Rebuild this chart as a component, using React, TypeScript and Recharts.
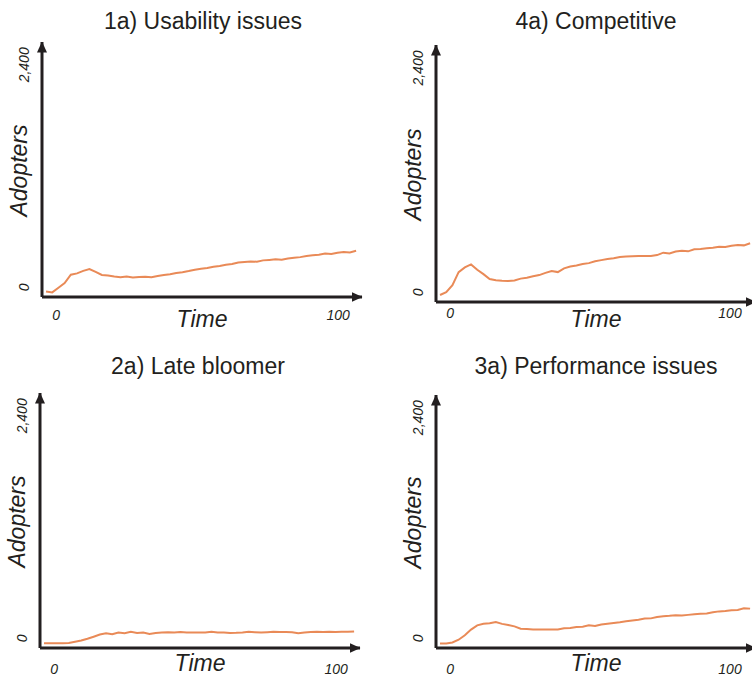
import React from 'react'
import { LineChart, Line, XAxis, YAxis } from 'recharts'

// time steps shared by all four runs
const TIME = [
  0, 2, 4, 6, 8, 10, 12, 14, 16, 18, 20, 22, 24, 26, 28, 30, 32, 34, 36, 38, 40,
  42, 44, 46, 48, 50, 52, 54, 56, 58, 60, 62, 64, 66, 68, 70, 72, 74, 76, 78, 80,
  82, 84, 86, 88, 90, 92, 94, 96, 98, 100,
]

// adopters per run
const USABILITY = [
  10, 0, 50, 100, 190, 205, 232, 252, 222, 188, 182, 170, 162, 170, 160, 166, 168, 162, 176, 188, 196,
  208, 218, 230, 244, 255, 262, 276, 285, 298, 306, 322, 328, 334, 330, 345, 350, 356, 352, 365, 374,
  380, 392, 400, 405, 418, 414, 428, 436, 430, 448,
]
const COMPETITIVE = [
  25, 55, 130, 270, 320, 352, 295, 248, 196, 182, 178, 176, 180, 200, 210, 225, 238, 262, 282, 270, 310,
  330, 340, 356, 366, 385, 398, 410, 418, 432, 436, 440, 442, 442, 442, 452, 478, 470, 490, 498, 492,
  514, 518, 524, 530, 540, 538, 552, 560, 556, 578,
]
const LATE_BLOOMER = [
  0, 0, 0, 2, 5, 18, 30, 50, 72, 95, 108, 98, 118, 110, 124, 112, 118, 102, 112, 116, 120,
  118, 122, 116, 118, 118, 116, 124, 116, 116, 112, 114, 118, 124, 120, 116, 120, 124, 122, 122, 120,
  108, 116, 122, 124, 122, 124, 122, 124, 124, 128,
]
const PERFORMANCE = [
  0, 0, 10, 40, 88, 150, 196, 214, 218, 232, 212, 200, 185, 160, 156, 152, 150, 150, 152, 150, 164,
  168, 178, 182, 196, 190, 206, 214, 222, 230, 240, 250, 258, 270, 272, 286, 296, 300, 306, 302, 310,
  318, 322, 326, 338, 348, 352, 360, 364, 382, 378,
]

const TITLES = ['1a) Usability issues', '4a) Competitive', '2a) Late bloomer', '3a) Performance issues']
const SERIES = [USABILITY, COMPETITIVE, LATE_BLOOMER, PERFORMANCE]
const X_TICKS = [0, 100]
const Y_TICKS = [0, 2400]

const FONT = '"Liberation Sans", Arial, Helvetica, sans-serif'
const INK = '#231f20'
const LINE_COLOR = '#e98a57'
const CHART_W = 384
const CHART_H = 340

type Layout = {
  ox: number
  oy: number
  left: number
  top: number
  right: number
  bottom: number
  titleX: number
  titleTop: number
  tickDy: number
  timeDy: number
}

// where each panel sits on the page
const LAYOUT: Layout[] = [
  { ox: 0, oy: 0, left: 42, top: 42, right: 362, bottom: 297, titleX: 203, titleTop: 10, tickDy: 18, timeDy: 22 },
  { ox: 376, oy: 0, left: 60, top: 45, right: 380, bottom: 302, titleX: 220, titleTop: 10, tickDy: 11, timeDy: 17 },
  { ox: 0, oy: 338, left: 40, top: 55, right: 360, bottom: 310, titleX: 198, titleTop: 17, tickDy: 21, timeDy: 15 },
  { ox: 376, oy: 338, left: 60, top: 57, right: 380, bottom: 310, titleX: 220, titleTop: 17, tickDy: 21, timeDy: 15 },
]

function Panel({ title, values, L, id }: { title: string; values: number[]; L: Layout; id: string }) {
  const data = TIME.map((t, i) => ({ t, v: values[i] }))

  const axisStyle = {
    stroke: INK,
    strokeWidth: 3,
  }

  const XTick = (props: any) => {
    const { x, y, payload } = props
    const dx = payload.value === 0 ? 10 : -18
    return (
      <text
        x={x + dx}
        y={y + L.tickDy}
        textAnchor="middle"
        dominantBaseline="central"
        fontStyle="italic"
        fontSize={14}
        fontFamily={FONT}
        fill={INK}
      >
        {payload.value}
      </text>
    )
  }

  const YTick = (props: any) => {
    const { x, y, payload } = props
    const tx = x - 18
    const ty = y - 5
    return (
      <text
        x={tx}
        y={ty}
        transform={`rotate(-90 ${tx} ${ty})`}
        textAnchor="middle"
        dominantBaseline="central"
        fontStyle="italic"
        fontSize={14}
        fontFamily={FONT}
        fill={INK}
      >
        {Number(payload.value).toLocaleString('en-US')}
      </text>
    )
  }

  const timeLabel = () => (
    <text
      x={(L.left + L.right) / 2}
      y={L.bottom + L.timeDy}
      textAnchor="middle"
      dominantBaseline="central"
      fontStyle="italic"
      fontSize={23}
      fontFamily={FONT}
      fill={INK}
    >
      Time
    </text>
  )

  const adoptersLabel = () => {
    const tx = L.left - 23
    const ty = (L.top + L.bottom) / 2 + 1
    return (
      <text
        x={tx}
        y={ty}
        transform={`rotate(-90 ${tx} ${ty})`}
        textAnchor="middle"
        dominantBaseline="central"
        fontStyle="italic"
        fontSize={23}
        fontFamily={FONT}
        fill={INK}
      >
        Adopters
      </text>
    )
  }

  return (
    <div style={{ position: 'absolute', left: L.ox, top: L.oy, width: CHART_W, height: CHART_H }}>
      <div
        style={{
          position: 'absolute',
          left: L.titleX - 150,
          top: L.titleTop,
          width: 300,
          textAlign: 'center',
          fontFamily: FONT,
          fontSize: 23,
          lineHeight: '23px',
          color: INK,
          whiteSpace: 'nowrap',
        }}
      >
        {title}
      </div>
      <div style={{ position: 'absolute', left: 0, top: 0 }}>
        <LineChart
          width={CHART_W}
          height={CHART_H}
          data={data}
          margin={{ top: L.top, right: CHART_W - L.right, bottom: CHART_H - L.bottom - 20, left: L.left - 20 }}
        >
          <defs>
            <marker
              id={`arrow-${id}`}
              viewBox="0 0 11 10"
              refX={10.5}
              refY={5}
              markerWidth={11}
              markerHeight={10}
              markerUnits="userSpaceOnUse"
              orient="auto-start-reverse"
            >
              <path d="M0,0 L11,5 L0,10 Z" fill={INK} />
            </marker>
          </defs>
          <XAxis
            dataKey="t"
            type="number"
            domain={[-1.3, 101.9]}
            allowDataOverflow
            ticks={X_TICKS}
            height={20}
            tickLine={false}
            tickSize={0}
            tickMargin={0}
            tick={XTick}
            axisLine={{ ...axisStyle, markerEnd: `url(#arrow-${id})` }}
            label={timeLabel}
          />
          <YAxis
            type="number"
            domain={[-50, 2700]}
            allowDataOverflow
            ticks={Y_TICKS}
            width={20}
            tickLine={false}
            tickSize={0}
            tickMargin={0}
            tick={YTick}
            axisLine={{ ...axisStyle, markerStart: `url(#arrow-${id})` }}
            label={adoptersLabel}
          />
          <Line
            type="linear"
            dataKey="v"
            stroke={LINE_COLOR}
            strokeWidth={2}
            dot={false}
            isAnimationActive={false}
          />
        </LineChart>
      </div>
    </div>
  )
}

export default function App() {
  return (
    <div
      style={{
        position: 'absolute',
        left: 0,
        top: 0,
        width: 752,
        height: 677,
        overflow: 'hidden',
        background: '#fff',
      }}
    >
      {LAYOUT.map((L, i) => (
        <Panel key={i} title={TITLES[i]} values={SERIES[i]} L={L} id={String(i)} />
      ))}
    </div>
  )
}
